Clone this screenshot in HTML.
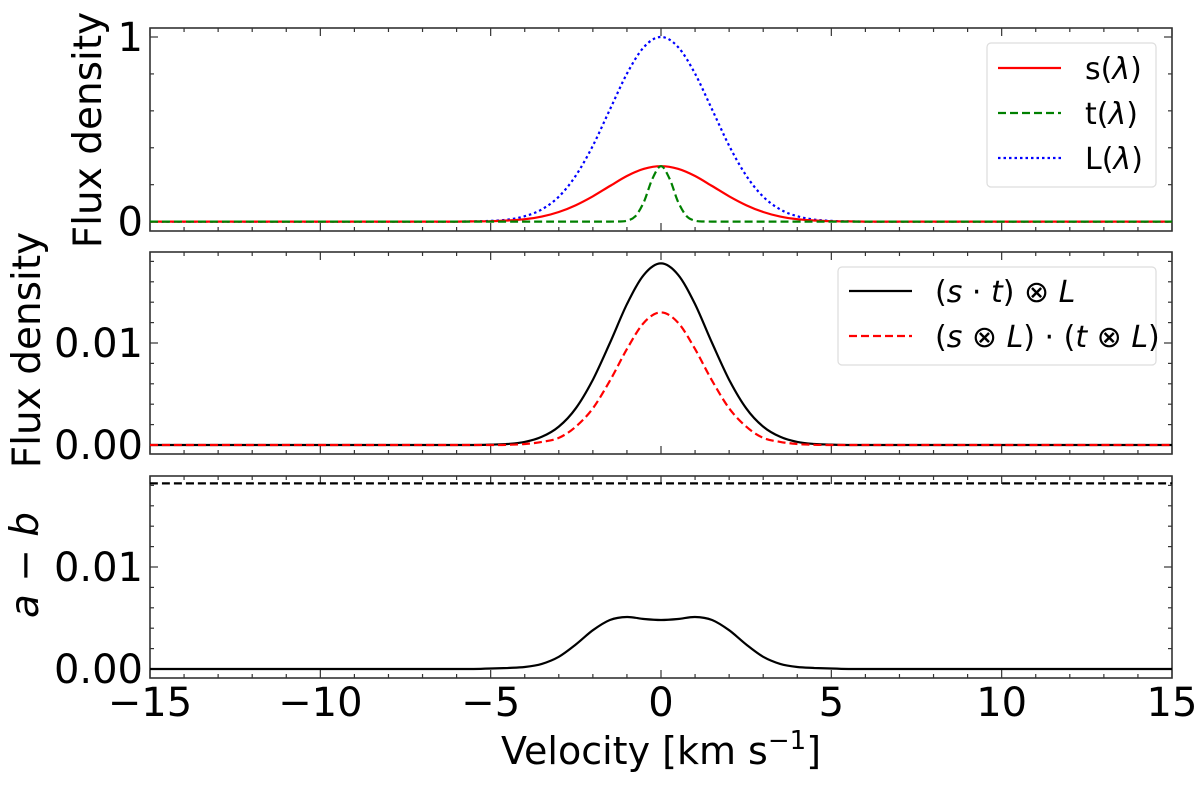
<!DOCTYPE html>
<html><head><meta charset="utf-8"><style>
body{margin:0;background:#fff}
text{font-family:"DejaVu Sans","Liberation Sans",sans-serif;fill:#000}
</style></head><body>
<svg id="chart" width="1200" height="781" viewBox="0 0 1200 781" xmlns="http://www.w3.org/2000/svg"></svg>
<script>
// x samples
const xs = [-15,-6,-5.5,-5,-4.5,-4,-3.5,-3,-2.5,-2,-1.5,-1,-0.5,0,0.5,1,1.5,2,2.5,3,3.5,4,4.5,5,5.5,6,15];
const sVals = [0,0,0.001,0.002,0.006,0.013,0.027,0.052,0.089,0.137,0.193,0.247,0.286,0.3,0.286,0.247,0.193,0.137,0.089,0.052,0.027,0.013,0.006,0.002,0.001,0,0];
const LVals = [0,0,0.001,0.004,0.011,0.029,0.066,0.135,0.249,0.411,0.607,0.801,0.946,1,0.946,0.801,0.607,0.411,0.249,0.135,0.066,0.029,0.011,0.004,0.001,0,0];
const txs = [-15,-1.5,-1.25,-1,-0.75,-0.5,-0.25,0,0.25,0.5,0.75,1,1.25,1.5,15];
const tVals = [0,0,0.0005,0.005,0.030,0.108,0.233,0.3,0.233,0.108,0.030,0.005,0.0005,0,0];
const convA = [0,0,0,0.00004,0.0001,0.0003,0.0008,0.0018,0.0036,0.0064,0.0100,0.0138,0.0167,0.0178,0.0167,0.0138,0.0100,0.0064,0.0036,0.0018,0.0008,0.0003,0.0001,0.00004,0,0,0];
const convB = [0,0,0,0,0.00002,0.0001,0.0003,0.0007,0.0018,0.0036,0.0063,0.0094,0.0120,0.0130,0.0120,0.0094,0.0063,0.0036,0.0018,0.0007,0.0003,0.0001,0.00002,0,0,0,0];
const diffVals = [0,0,0,0.00005,0.0001,0.0002,0.0005,0.0012,0.0024,0.0038,0.0048,0.0051,0.0049,0.0048,0.0049,0.0051,0.0048,0.0038,0.0024,0.0012,0.0005,0.0002,0.0001,0.00005,0,0,0];
const diffRef = 0.0182;
const xTicks = [-15,-10,-5,0,5,10,15];
const xTickLabels = ["\u221215","\u221210","\u22125","0","5","10","15"];

const svg = document.getElementById('chart');
const NS = 'http://www.w3.org/2000/svg';
const X0=150, X1=1172;
const xs2px = v => X0 + (v+15)/30*(X1-X0);
function el(tag, attrs, parent){const e=document.createElementNS(NS,tag);for(const k in attrs)e.setAttribute(k,attrs[k]);(parent||svg).appendChild(e);return e;}

const panels = [
 {top:28,bottom:231,v0:0,p0:221.6,v1:1,p1:37,major:[0,1],majorL:["0","1"],minorStep:0.2,ymin:-0.05,ymax:1.05,name:'top-panel'},
 {top:252,bottom:454,v0:0,p0:445,v1:0.01,p1:343,major:[0,0.01],majorL:["0.00","0.01"],minorStep:0.002,ymin:-0.0009,ymax:0.0195,name:'middle-panel'},
 {top:476,bottom:678,v0:0,p0:669,v1:0.01,p1:567,major:[0,0.01],majorL:["0.00","0.01"],minorStep:0.002,ymin:-0.0009,ymax:0.0195,name:'bottom-panel'}
];
panels.forEach(p=>{p.y=v=>p.p0+(v-p.v0)/(p.v1-p.v0)*(p.p1-p.p0);});

function line(p, xarr, yarr, color, dash, name){
  const pts = xarr.map((x,i)=>[xs2px(x), p.y(yarr[i])]);
  let d='M'+pts[0][0].toFixed(1)+','+pts[0][1].toFixed(1);
  for(let i=0;i<pts.length-1;i++){
    const p0=pts[Math.max(i-1,0)], p1=pts[i], p2=pts[i+1], p3=pts[Math.min(i+2,pts.length-1)];
    // avoid overshoot on long flat segments
    const span=p2[0]-p1[0];
    let c1x=p1[0]+(p2[0]-p0[0])/6, c1y=p1[1]+(p2[1]-p0[1])/6;
    let c2x=p2[0]-(p3[0]-p1[0])/6, c2y=p2[1]-(p3[1]-p1[1])/6;
    if(span>100||(p1[0]-p0[0])>100||(p3[0]-p2[0])>100){c1x=p1[0];c1y=p1[1];c2x=p2[0];c2y=p2[1];}
    d+='C'+c1x.toFixed(1)+','+c1y.toFixed(1)+' '+c2x.toFixed(1)+','+c2y.toFixed(1)+' '+p2[0].toFixed(1)+','+p2[1].toFixed(1);
  }
  const e=el('path',{d:d,fill:'none',stroke:color,'stroke-width':2.2,'stroke-dasharray':dash||'none','stroke-linejoin':'round'});
  
  
}

panels.forEach((p,pi)=>{
  const g=el('g',{});
  
  
  for(let v=-15;v<=15;v++){
    const x=xs2px(v); const len = v%5===0?8:4;
    el('line',{x1:x,y1:p.bottom,x2:x,y2:p.bottom-len,stroke:'#333','stroke-width':1.2},g);
    el('line',{x1:x,y1:p.top,x2:x,y2:p.top+len,stroke:'#333','stroke-width':1.2},g);
  }
  const n0=Math.ceil(p.ymin/p.minorStep), n1=Math.floor(p.ymax/p.minorStep);
  for(let k=n0;k<=n1;k++){
    const v=k*p.minorStep, y=p.y(v);
    const isMaj = p.major.some(m=>Math.abs(m-v)<1e-9);
    const len=isMaj?8:4;
    el('line',{x1:X0,y1:y,x2:X0+len,y2:y,stroke:'#333','stroke-width':1.2},g);
    el('line',{x1:X1,y1:y,x2:X1-len,y2:y,stroke:'#333','stroke-width':1.2},g);
  }
  p.major.forEach((m,i)=>{
    const t=el('text',{x:143,y:p.y(m)+14,'text-anchor':'end','font-size':40},g);
    t.textContent=p.majorL[i];
    
    
  });
  el('rect',{x:X0,y:p.top,width:X1-X0,height:p.bottom-p.top,fill:'none',stroke:'#333','stroke-width':1.6},g);
});

const [P1,P2,P3]=panels;
line(P1,xs,LVals,'#0000ff','2.5,3','L-curve');
line(P1,xs,sVals,'#ff0000',null,'s-curve');
line(P1,txs,tVals,'#008000','8,4','t-curve');
line(P2,xs,convA,'#000000',null,'conv-product-curve');
line(P2,xs,convB,'#ff0000','8,4','product-conv-curve');
line(P3,xs,diffVals,'#000000',null,'difference-curve');
line(P3,[-15,15],[diffRef,diffRef],'#000000','8,4','reference-level-line');

xTicks.forEach((v,i)=>{
  const t=el('text',{x:xs2px(v),y:716,'text-anchor':'middle','font-size':40});
  t.textContent=xTickLabels[i];
  
  
});
</script>
<svg style="position:absolute;left:0;top:0" width="1200" height="781" xmlns="http://www.w3.org/2000/svg">
  <text x="661" y="764" text-anchor="middle" font-size="38">Velocity [km s<tspan dy="-15" font-size="26">−1</tspan><tspan dy="15">]</tspan></text>
  <text transform="translate(101,130) rotate(-90)" text-anchor="middle" font-size="39">Flux density</text>
  <text transform="translate(40,350) rotate(-90)" text-anchor="middle" font-size="39">Flux density</text>
  <text transform="translate(38,565) rotate(-90)" text-anchor="middle" font-size="39" font-style="italic">a − b</text>
  <g>
    <rect x="987" y="43" width="169" height="144" rx="4" fill="#fff" stroke="#ddd" stroke-width="1.2"/>
    <line x1="998" y1="68" x2="1061" y2="68" stroke="#ff0000" stroke-width="2.2"/>
    <text x="1085" y="79" font-size="30">s(<tspan font-style="italic">λ</tspan>)</text>
    <line x1="998" y1="113" x2="1061" y2="113" stroke="#008000" stroke-width="2.2" stroke-dasharray="8,4"/>
    <text x="1085" y="124" font-size="30">t(<tspan font-style="italic">λ</tspan>)</text>
    <line x1="998" y1="158" x2="1061" y2="158" stroke="#0000ff" stroke-width="2.2" stroke-dasharray="2.5,3"/>
    <text x="1085" y="169" font-size="30">L(<tspan font-style="italic">λ</tspan>)</text>
  </g>
  <g>
    <rect x="838" y="267" width="318" height="98" rx="4" fill="#fff" stroke="#ddd" stroke-width="1.2"/>
    <line x1="849" y1="291" x2="912" y2="291" stroke="#000" stroke-width="2.2"/>
    <text x="935" y="302" font-size="30">(<tspan font-style="italic">s</tspan> · <tspan font-style="italic">t</tspan>) ⊗ <tspan font-style="italic">L</tspan></text>
    <line x1="849" y1="336" x2="912" y2="336" stroke="#ff0000" stroke-width="2.2" stroke-dasharray="8,4"/>
    <text x="935" y="347" font-size="30">(<tspan font-style="italic">s</tspan> ⊗ <tspan font-style="italic">L</tspan>) · (<tspan font-style="italic">t</tspan> ⊗ <tspan font-style="italic">L</tspan>)</text>
  </g>
</svg>
</body></html>
